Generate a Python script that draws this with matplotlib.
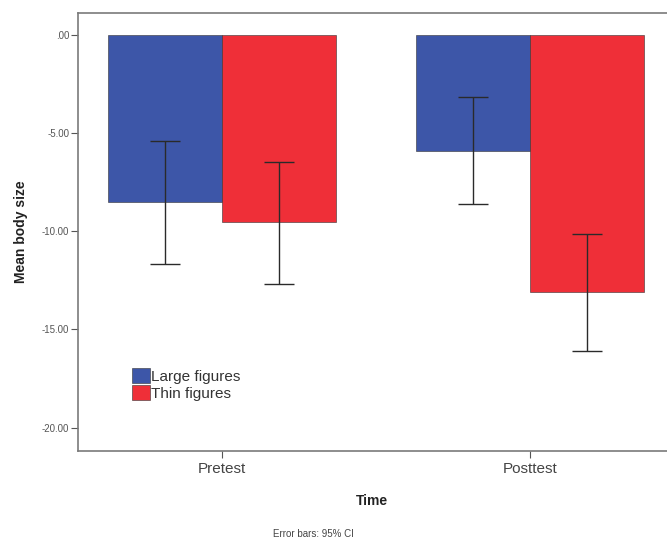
import matplotlib
matplotlib.use("Agg")
import matplotlib.pyplot as plt
import numpy as np

plt.rcParams['font.family'] = ['Liberation Sans', 'DejaVu Sans']

times = ["Pretest", "Posttest"]
groups = ["Large figures", "Thin figures"]
means = {"Large figures": [-8.51, -5.92], "Thin figures": [-9.53, -13.10]}
ci_low = {"Large figures": [-11.69, -8.63], "Thin figures": [-12.68, -16.08]}
ci_high = {"Large figures": [-5.44, -3.17], "Thin figures": [-6.46, -10.14]}
colors = {"Large figures": "#3d56a8", "Thin figures": "#ef2f38"}
yticks = [0, -5, -10, -15, -20]
ytick_labels = [".00", "-5.00", "-10.00", "-15.00", "-20.00"]

fig = plt.figure(figsize=(6.67, 5.44), dpi=100)
ax = fig.add_axes([77.5/667, 93.3/544, 1 - 77.5/667, (450.7-12.5)/544])

x = np.arange(len(times))
w = 0.37
offsets = [-w/2, w/2]
for g, off in zip(groups, offsets):
    m = np.array(means[g])
    lo = np.array(ci_low[g])
    hi = np.array(ci_high[g])
    ax.bar(x + off, m, width=w, color=colors[g], edgecolor="#333333", linewidth=0.4,
           label=g, zorder=2)
    ax.errorbar(x + off, m, yerr=[m - lo, hi - m], fmt='none', ecolor="#2a2a2a",
                elinewidth=1.0, capsize=10.5, capthick=1.0, zorder=3)

ax.set_xlim(-0.469, 1.445)
ax.set_ylim(-21.17, 1.12)
ax.set_xticks(x)
ax.set_xticklabels(times, fontsize=11, color="#444444")
ax.set_yticks(yticks)
ax.set_yticklabels(ytick_labels, fontsize=7, color="#555555")
ax.tick_params(axis='y', direction='out', length=5, width=0.8, color="#555555", pad=1)
ax.tick_params(axis='x', direction='out', length=5, width=0.8, color="#555555", pad=3)

for s in ['left', 'top', 'bottom']:
    ax.spines[s].set_color("#7a7a7a")
    ax.spines[s].set_linewidth(1.2)
ax.spines['right'].set_visible(False)

ax.set_ylabel("Mean body size", fontsize=10, fontweight='bold', color="#222222", labelpad=10)
ax.set_xlabel("Time", fontsize=10, fontweight='bold', color="#222222", labelpad=13)

leg = ax.legend(loc='upper left', bbox_to_anchor=(48/589.5, (450.7-362)/438.2),
                frameon=False, fontsize=11, handlelength=1.2, handleheight=1.1,
                handletextpad=0.1, labelspacing=0.1, borderaxespad=0)
for t in leg.get_texts():
    t.set_color("#333333")

fig.text(313/667, 1 - 534/544, "Error bars: 95% CI", fontsize=7, color="#444444",
         ha='center', va='center')

fig.savefig("out.png", dpi=100)
